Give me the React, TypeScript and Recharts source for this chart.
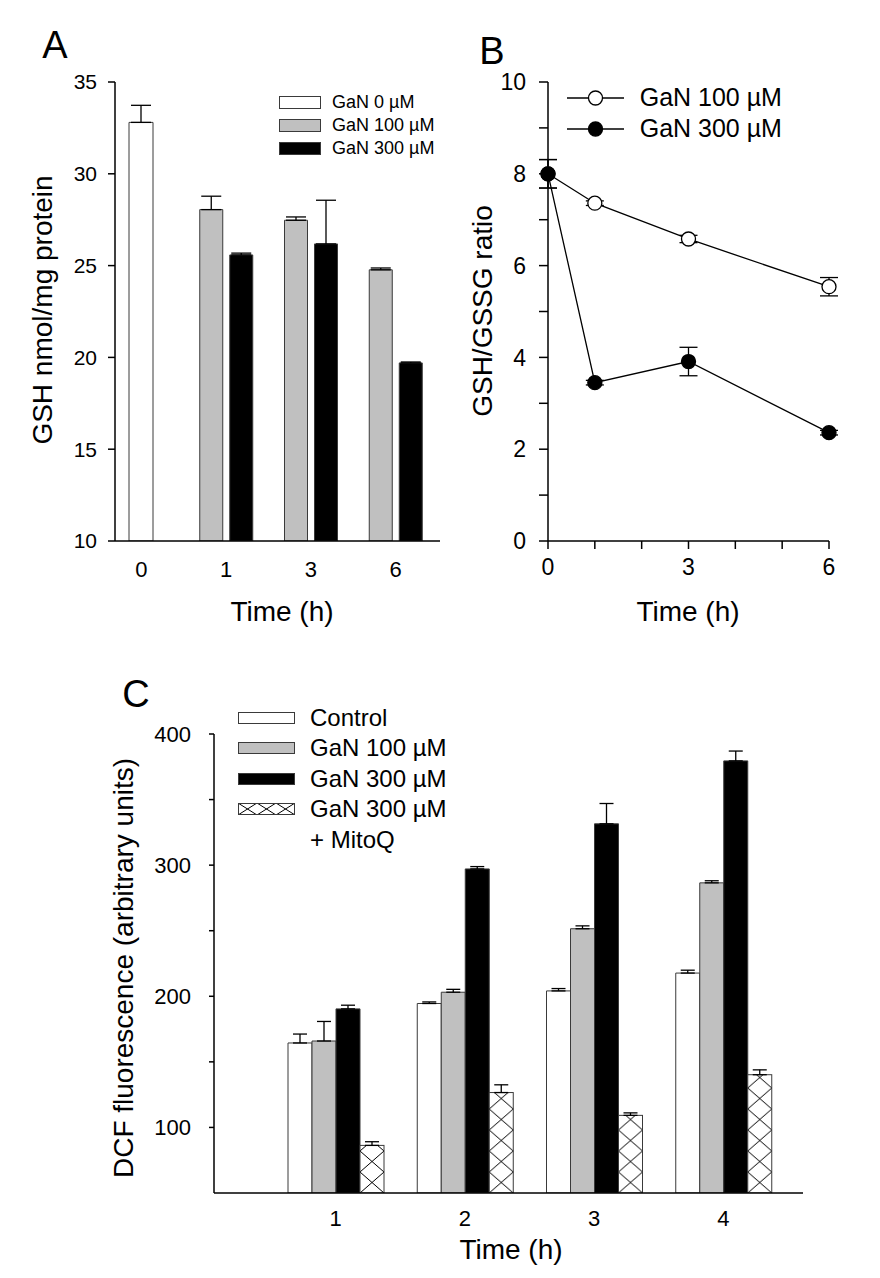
import React from "react";
import {
  BarChart,
  Bar,
  LineChart,
  Line,
  XAxis,
  YAxis,
  ErrorBar,
  Legend,
} from "recharts";

const FONT = '"Liberation Sans", Arial, Helvetica, sans-serif';

// ---- Panel A: GSH content ----
const gshTimes = ["0", "1", "3", "6"];
const gsh0 = [32.8, null, null, null];
const gsh0Err = [0.93, null, null, null];
const gsh100 = [null, 28.05, 27.47, 24.77];
const gsh100Err = [null, 0.73, 0.18, 0.1];
const gsh300 = [null, 25.58, 26.18, 19.7];
const gsh300Err = [null, 0.1, 2.38, 0.05];
const gshTicks = [10, 15, 20, 25, 30, 35];
const gshNames = ["GaN 0 µM", "GaN 100 µM", "GaN 300 µM"];

// ---- Panel B: GSH/GSSG ratio ----
const ratioTimes = [0, 1, 3, 6];
const ratio100 = [8.0, 7.36, 6.58, 5.54];
const ratio100Err = [0.31, 0.05, 0.08, 0.2];
const ratio300 = [8.0, 3.45, 3.91, 2.36];
const ratio300Err = [0.31, 0.05, 0.31, 0.05];
const ratioYTicks = [0, 1, 2, 3, 4, 5, 6, 7, 8, 9, 10];
const ratioXTicks = [0, 1, 2, 3, 4, 5, 6];
const ratioNames = ["GaN 100 µM", "GaN 300 µM"];

// ---- Panel C: DCF fluorescence ----
const dcfTimes = ["1", "2", "3", "4"];
const dcfControl = [164.4, 194.5, 204.1, 217.7];
const dcfControlErr = [6.8, 1.2, 1.8, 2.2];
const dcf100 = [165.9, 203.1, 251.5, 286.5];
const dcf100Err = [14.9, 2.2, 2.2, 1.6];
const dcf300 = [190.4, 297.1, 331.5, 379.5];
const dcf300Err = [2.8, 1.8, 15.5, 7.5];
const dcfMitoQ = [86.3, 126.6, 109.2, 140.2];
const dcfMitoQErr = [2.8, 5.9, 1.9, 3.7];
const dcfTicks = [100, 150, 200, 250, 300, 350, 400];
const dcfNames = ["Control", "GaN 100 µM", "GaN 300 µM", "GaN 300 µM + MitoQ"];

const gshData = gshTimes.map((time, i) => ({
  time,
  v0: gsh0[i],
  e0: gsh0Err[i],
  v100: gsh100[i],
  e100: gsh100Err[i],
  v300: gsh300[i],
  e300: gsh300Err[i],
}));

const ratioData = ratioTimes.map((t, i) => ({
  t,
  v100: ratio100[i],
  e100: ratio100Err[i],
  v300: ratio300[i],
  e300: ratio300Err[i],
}));

const dcfData = dcfTimes.map((time, i) => ({
  time,
  ctrl: dcfControl[i],
  eCtrl: dcfControlErr[i],
  g100: dcf100[i],
  e100: dcf100Err[i],
  g300: dcf300[i],
  e300: dcf300Err[i],
  mito: dcfMitoQ[i],
  eMito: dcfMitoQErr[i],
}));

// upper-only error bars for the bar charts
const upErr = (key: string) => (d: any) => (d[key] == null ? null : [0, d[key]]);

const axisStroke = { stroke: "#000", strokeWidth: 1.5 };
const GRAY = "#c0c0c0";
const EDGE = "#3a3a3a";

function HatchBar(props: any) {
  const { x, y, width, height, index } = props;
  if (width == null || height == null || height <= 0) return null;
  const id = `hatch-bar-${index}`;
  const th = 21;
  return (
    <g>
      <defs>
        <pattern id={id} patternUnits="userSpaceOnUse" x={x} y={y + height} width={width} height={th}>
          <rect width={width} height={th} fill="#fff" />
          <path d={`M0,0 L${width},${th} M${width},0 L0,${th}`} stroke="#000" strokeWidth={1} />
        </pattern>
      </defs>
      <rect x={x} y={y} width={width} height={height} fill={`url(#${id})`} stroke={EDGE} strokeWidth={1} />
    </g>
  );
}

function Caption({ x, y, size, rotate, children }: any) {
  return (
    <div
      style={{
        position: "absolute",
        left: x,
        top: y,
        transform: `translate(-50%, -50%)${rotate ? " rotate(-90deg)" : ""}`,
        fontSize: size,
        lineHeight: 1,
        whiteSpace: "nowrap",
        color: "#000",
      }}
    >
      {children}
    </div>
  );
}

const gshFills = ["#fff", GRAY, "#000"];

const GshLegend = () => (
  <div style={{ fontFamily: FONT, fontSize: 18, color: "#000" }}>
    {gshNames.map((n, i) => (
      <div key={n} style={{ display: "flex", alignItems: "center", height: 23 }}>
        <span
          style={{
            width: 42,
            height: 13,
            boxSizing: "border-box",
            border: `1px solid ${EDGE}`,
            background: gshFills[i],
            marginRight: 11,
          }}
        />
        <span>{n}</span>
      </div>
    ))}
  </div>
);

const ratioFills = ["#fff", "#000"];

const RatioLegend = () => (
  <div style={{ fontFamily: FONT, fontSize: 25, color: "#000" }}>
    {ratioNames.map((n, i) => (
      <div key={n} style={{ display: "flex", alignItems: "center", height: 30.6 }}>
        <svg width={57} height={18}>
          <line x1={0} y1={9} x2={57} y2={9} stroke="#000" strokeWidth={1.3} />
          <circle cx={28.5} cy={9} r={7} fill={ratioFills[i]} stroke="#000" strokeWidth={1.3} />
        </svg>
        <span style={{ marginLeft: 16 }}>{n}</span>
      </div>
    ))}
  </div>
);

const dcfFills = ["#fff", GRAY, "#000", "hatch"];

const DcfSwatch = ({ fill }: { fill: string }) => (
  <svg width={57} height={12} style={{ flex: "none" }}>
    <defs>
      <pattern id="legend-hatch" patternUnits="userSpaceOnUse" width={19} height={12}>
        <rect width={19} height={12} fill="#fff" />
        <path d="M0,0 L19,12 M19,0 L0,12" stroke="#000" strokeWidth={1} />
      </pattern>
    </defs>
    <rect
      x={0.5}
      y={0.5}
      width={56}
      height={11}
      fill={fill === "hatch" ? "url(#legend-hatch)" : fill}
      stroke={EDGE}
      strokeWidth={1}
    />
  </svg>
);

const DcfLegend = () => (
  <div style={{ fontFamily: FONT, fontSize: 24, color: "#000" }}>
    {dcfNames.map((n, i) => {
      const parts = n.split(" + ");
      return (
        <div key={n} style={{ display: "flex", alignItems: "flex-start" }}>
          <div style={{ height: 30.3, display: "flex", alignItems: "center" }}>
            <DcfSwatch fill={dcfFills[i]} />
          </div>
          <div style={{ marginLeft: 15 }}>
            <div style={{ height: 30.3, lineHeight: "30.3px" }}>{parts[0]}</div>
            {parts[1] && <div style={{ height: 32, lineHeight: "32px" }}>+ {parts[1]}</div>}
          </div>
        </div>
      );
    })}
  </div>
);

export default function App() {
  const tickA = { fill: "#000", fontSize: 21, fontFamily: FONT };
  const tickB = { fill: "#000", fontSize: 23, fontFamily: FONT };
  const tickC = { fill: "#000", fontSize: 22, fontFamily: FONT };

  return (
    <div
      style={{
        position: "absolute",
        left: 0,
        top: 0,
        width: 880,
        height: 1278,
        background: "#fff",
        fontFamily: FONT,
        overflow: "hidden",
      }}
    >
      {/* Panel A */}
      <div style={{ position: "absolute", left: 0, top: 0 }}>
        <BarChart
          width={450}
          height={600}
          data={gshData}
          margin={{ top: 82, right: 10, bottom: 29, left: 45 }}
          barGap={7}
        >
          <XAxis
            dataKey="time"
            padding={{ left: -16, right: 2 }}
            axisLine={axisStroke}
            tickLine={false}
            tickSize={0}
            tickMargin={20}
            height={30}
            tick={{ ...tickA, fontSize: 22 }}
          />
          <XAxis xAxisId="w" dataKey="time" hide padding={{ left: -16, right: 2 }} />
          <YAxis
            domain={[10, 35]}
            ticks={gshTicks}
            allowDataOverflow
            width={70}
            tickSize={7}
            tickMargin={11}
            axisLine={axisStroke}
            tickLine={axisStroke}
            tick={tickA}
          />
          <Bar xAxisId="w" dataKey="v0" name={gshNames[0]} fill="#fff" stroke={EDGE} barSize={24} isAnimationActive={false}>
            <ErrorBar dataKey={upErr("e0")} width={10} stroke="#000" strokeWidth={1.3} direction="y" />
          </Bar>
          <Bar dataKey="v100" name={gshNames[1]} fill={GRAY} stroke={EDGE} barSize={23} isAnimationActive={false}>
            <ErrorBar dataKey={upErr("e100")} width={10} stroke="#000" strokeWidth={1.3} direction="y" />
          </Bar>
          <Bar dataKey="v300" name={gshNames[2]} fill="#000" stroke={EDGE} barSize={23} isAnimationActive={false}>
            <ErrorBar dataKey={upErr("e300")} width={10} stroke="#000" strokeWidth={1.3} direction="y" />
          </Bar>
          <Legend
            layout="vertical"
            align="center"
            verticalAlign="middle"
            content={GshLegend}
            wrapperStyle={{ left: 279, top: 90.5, width: "auto" }}
          />
        </BarChart>
      </div>

      {/* Panel B */}
      <div style={{ position: "absolute", left: 440, top: 0 }}>
        <LineChart
          width={440}
          height={600}
          data={ratioData}
          margin={{ top: 82, right: 51, bottom: 29, left: 38 }}
        >
          <XAxis
            dataKey="t"
            type="number"
            domain={[0, 6]}
            ticks={ratioXTicks}
            tickFormatter={(v: number) => (v % 3 === 0 ? String(v) : "")}
            axisLine={axisStroke}
            tickLine={axisStroke}
            tickSize={8}
            tickMargin={10}
            height={30}
            tick={tickB}
          />
          <YAxis
            domain={[0, 10]}
            ticks={ratioYTicks}
            tickFormatter={(v: number) => (v % 2 === 0 ? String(v) : "")}
            width={70}
            tickSize={9}
            tickMargin={13}
            axisLine={axisStroke}
            tickLine={axisStroke}
            tick={tickB}
          />
          <Line
            dataKey="v100"
            name={ratioNames[0]}
            stroke="#000"
            strokeWidth={1.3}
            dot={{ r: 7, fill: "#fff", stroke: "#000", strokeWidth: 1.3 }}
            isAnimationActive={false}
          >
            <ErrorBar dataKey="e100" width={9} stroke="#000" strokeWidth={1.3} direction="y" />
          </Line>
          <Line
            dataKey="v300"
            name={ratioNames[1]}
            stroke="#000"
            strokeWidth={1.3}
            dot={{ r: 7, fill: "#000", stroke: "#000", strokeWidth: 1.3 }}
            isAnimationActive={false}
          >
            <ErrorBar dataKey="e300" width={9} stroke="#000" strokeWidth={1.3} direction="y" />
          </Line>
          <Legend
            layout="vertical"
            align="center"
            verticalAlign="middle"
            content={RatioLegend}
            wrapperStyle={{ left: 126.7, top: 82.7, width: "auto" }}
          />
        </LineChart>
      </div>

      {/* Panel C */}
      <div style={{ position: "absolute", left: 0, top: 640 }}>
        <BarChart
          width={880}
          height={638}
          data={dcfData}
          margin={{ top: 94, right: 77, bottom: 55, left: 134 }}
          barGap={0}
          barSize={24}
        >
          <XAxis
            dataKey="time"
            padding={{ left: 57, right: 15 }}
            axisLine={axisStroke}
            tickLine={false}
            tickSize={0}
            tickMargin={17}
            height={30}
            tick={tickC}
          />
          <YAxis
            domain={[50, 400]}
            ticks={dcfTicks}
            allowDataOverflow
            tickFormatter={(v: number) => (v % 100 === 0 ? String(v) : "")}
            width={80}
            tickSize={5}
            tickMargin={18}
            axisLine={axisStroke}
            tickLine={axisStroke}
            tick={tickC}
          />
          <Bar dataKey="ctrl" name={dcfNames[0]} fill="#fff" stroke={EDGE} isAnimationActive={false}>
            <ErrorBar dataKey={upErr("eCtrl")} width={7} stroke="#000" strokeWidth={1.3} direction="y" />
          </Bar>
          <Bar dataKey="g100" name={dcfNames[1]} fill={GRAY} stroke={EDGE} isAnimationActive={false}>
            <ErrorBar dataKey={upErr("e100")} width={7} stroke="#000" strokeWidth={1.3} direction="y" />
          </Bar>
          <Bar dataKey="g300" name={dcfNames[2]} fill="#000" stroke={EDGE} isAnimationActive={false}>
            <ErrorBar dataKey={upErr("e300")} width={7} stroke="#000" strokeWidth={1.3} direction="y" />
          </Bar>
          <Bar dataKey="mito" name={dcfNames[3]} fill="#fff" shape={HatchBar} isAnimationActive={false}>
            <ErrorBar dataKey={upErr("eMito")} width={7} stroke="#000" strokeWidth={1.3} direction="y" />
          </Bar>
          <Legend
            layout="vertical"
            align="center"
            verticalAlign="middle"
            content={DcfLegend}
            wrapperStyle={{ left: 238, top: 63, width: "auto" }}
          />
        </BarChart>
      </div>

      {/* titles */}
      <Caption x={55} y={45} size={38}>A</Caption>
      <Caption x={492} y={51} size={38}>B</Caption>
      <Caption x={136} y={694} size={38}>C</Caption>
      <Caption x={42.5} y={310} size={28} rotate>GSH nmol/mg protein</Caption>
      <Caption x={282} y={612} size={28}>Time (h)</Caption>
      <Caption x={482.5} y={311} size={28} rotate>GSH/GSSG ratio</Caption>
      <Caption x={688} y={612} size={28}>Time (h)</Caption>
      <Caption x={124} y={968} size={28} rotate>DCF fluorescence (arbitrary units)</Caption>
      <Caption x={511} y={1250} size={28}>Time (h)</Caption>
    </div>
  );
}
